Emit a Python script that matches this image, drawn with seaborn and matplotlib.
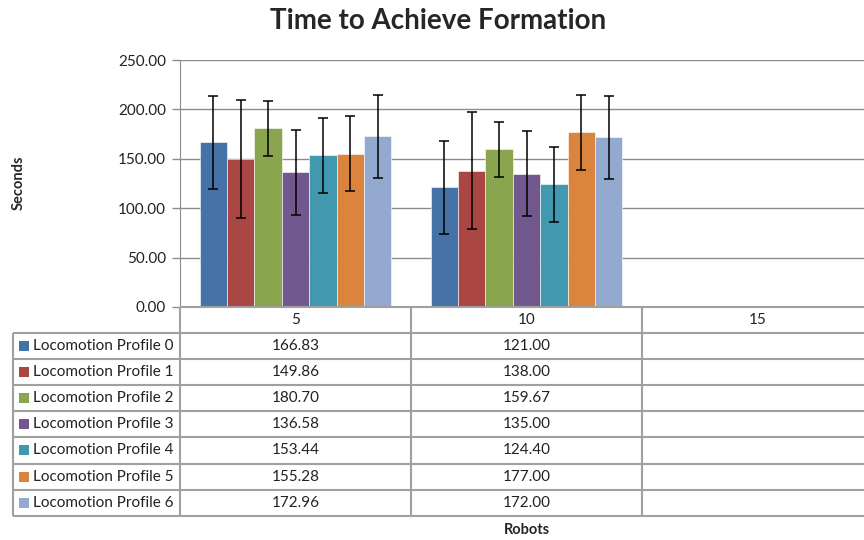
import numpy as np
import pandas as pd
import matplotlib
matplotlib.use("Agg")
import matplotlib.pyplot as plt
from matplotlib.patches import Rectangle
from matplotlib.container import BarContainer
import seaborn as sns

#### Données
robots = ["5", "10", "15"]
profiles = ["Locomotion Profile %d" % i for i in range(7)]
colors = ["#4572A7", "#AA4643", "#89A54E", "#71588F", "#4198AF", "#DB843D", "#93A9CF"]

# moyennes (5 robots, 10 robots) ; 15 robots sans données
mean_5 = [166.83, 149.86, 180.70, 136.58, 153.44, 155.28, 172.96]
mean_10 = [121.00, 138.00, 159.67, 135.00, 124.40, 177.00, 172.00]
# écarts (barres d'erreur)
err_5 = [47, 60, 28, 43, 38, 38, 42]
err_10 = [47, 59, 28, 43, 38, 38, 42]

means = {"5": mean_5, "10": mean_10}
errs = {"5": err_5, "10": err_10}

df = pd.DataFrame(
    [(r, p, means[r][i]) for r in ["5", "10"] for i, p in enumerate(profiles)],
    columns=["robots", "profile", "seconds"],
)

#### Figure
sns.set_style("white")
plt.rcParams["font.family"] = ["Lato", "DejaVu Sans"]

W, H = 864, 540
fig = plt.figure(figsize=(W / 100, H / 100), dpi=100)

left, top, bottom = 180, 60, 307
col_w = 231
ax = fig.add_axes([left / W, 1 - bottom / H, 3 * col_w / W, (bottom - top) / H])

sns.barplot(
    data=df, x="robots", y="seconds", hue="profile",
    order=robots, hue_order=profiles, palette=colors,
    width=0.83, errorbar=None, saturation=1, legend=False,
    edgecolor="white", linewidth=0.4, ax=ax,
)

# barres d'erreur
bar_conts = [c for c in ax.containers if isinstance(c, BarContainer)]
for i, cont in enumerate(bar_conts):
    for bar in cont:
        if np.isnan(bar.get_height()):
            continue
        xc = bar.get_x() + bar.get_width() / 2
        cat = robots[int(round(xc))]
        ax.errorbar(xc, bar.get_height(), yerr=errs[cat][i], fmt="none",
                    ecolor="black", elinewidth=1.1, capsize=3.5, capthick=1.1)

ax.set_xlim(-0.5, 2.5)
ax.set_ylim(0, 250)
ax.set_yticks(np.arange(0, 251, 50))
ax.set_yticklabels(["%.2f" % v for v in np.arange(0, 251, 50)], fontsize=11, color="#222222")
ax.yaxis.grid(True, color="#8C8C8C", linewidth=1)
ax.set_axisbelow(True)
ax.set_xticks([])
ax.set_xlabel("")
ax.set_ylabel("")
ax.tick_params(axis="y", length=6, width=1, color="#8C8C8C", left=True, pad=4)
for s in ["top", "right", "bottom"]:
    ax.spines[s].set_visible(False)
ax.spines["left"].set_color("#8C8C8C")

#### Tableau de données
tab = fig.add_axes([0, 0, 1, 1])
tab.set_xlim(0, W)
tab.set_ylim(H, 0)
tab.axis("off")

line_c = "#A0A0A0"
row_h = 26.1
head_top = bottom
head_bot = 333
rows_y = [head_bot + k * row_h for k in range(len(profiles) + 1)]
col_x = [left + k * col_w for k in range(4)]

tab.hlines([head_top], left, W, color=line_c, lw=1.5)
tab.hlines(rows_y, 13, W, color=line_c, lw=1.5)
tab.vlines(col_x[:3], head_top, rows_y[-1], color=line_c, lw=1.5)
tab.vlines([13], rows_y[0], rows_y[-1], color=line_c, lw=1.5)

for k, r in enumerate(robots):
    tab.text(col_x[k] + col_w / 2, (head_top + head_bot) / 2, r,
             ha="center", va="center", fontsize=11, color="#222222")

for i, p in enumerate(profiles):
    yc = (rows_y[i] + rows_y[i + 1]) / 2
    tab.add_patch(Rectangle((19, yc - 5), 10, 10, color=colors[i], lw=0))
    tab.text(33, yc, p, ha="left", va="center", fontsize=11, color="#222222")
    for k, r in enumerate(robots):
        if r in means:
            tab.text(col_x[k] + col_w / 2, yc, "%.2f" % means[r][i],
                     ha="center", va="center", fontsize=11, color="#222222")

#### Titres
fig.text(438 / W, 1 - 21 / H, "Time to Achieve Formation", ha="center", va="center",
         fontsize=20, fontweight="bold")
fig.text(19 / W, 1 - 183 / H, "Seconds", ha="center", va="center", rotation=90,
         fontsize=10.5, fontweight="bold")
fig.text(527 / W, 1 - 530 / H, "Robots", ha="center", va="center",
         fontsize=10.5, fontweight="bold")

fig.savefig("out.png", dpi=100)
